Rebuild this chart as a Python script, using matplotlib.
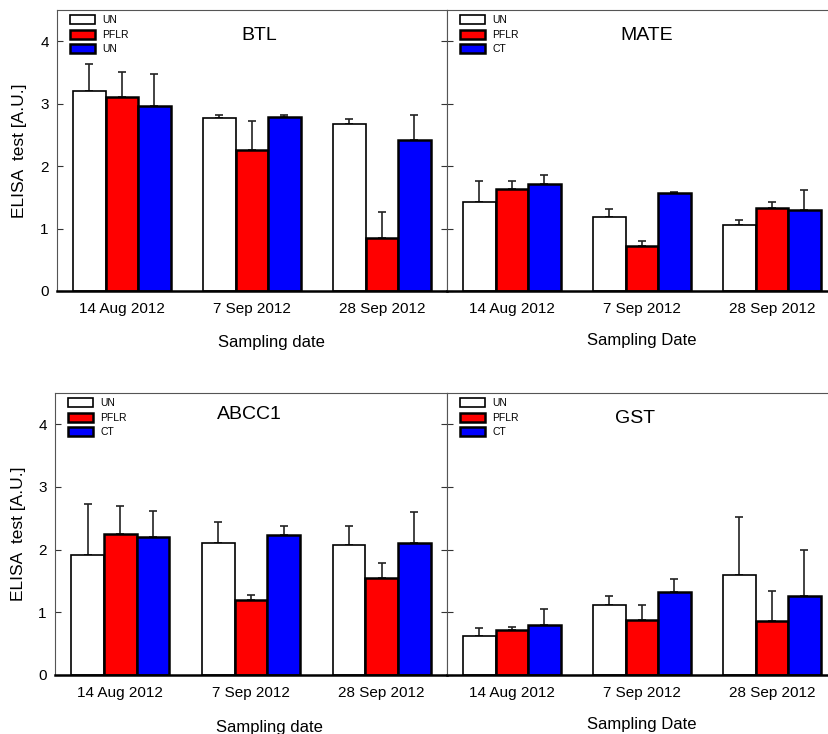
import matplotlib
matplotlib.use("Agg")
import matplotlib.pyplot as plt
import numpy as np
from matplotlib.patches import Patch

plt.rcParams['font.family'] = ['Liberation Sans', 'DejaVu Sans']

dates = ["14 Aug 2012", "7 Sep 2012", "28 Sep 2012"]
colors = ["white", "#ff0000", "#0000ff"]
edge_widths = [1.2, 1.8, 1.8]

# BTL
btl_labels = ["UN", "PFLR", "UN"]
btl_un = [3.20, 2.77, 2.67]
btl_un_top = [3.63, 2.82, 2.76]
btl_pflr = [3.11, 2.26, 0.85]
btl_pflr_top = [3.50, 2.72, 1.27]
btl_ct = [2.96, 2.79, 2.42]
btl_ct_top = [3.48, 2.82, 2.82]

# MATE
mate_labels = ["UN", "PFLR", "CT"]
mate_un = [1.42, 1.18, 1.05]
mate_un_top = [1.76, 1.32, 1.14]
mate_pflr = [1.64, 0.72, 1.33]
mate_pflr_top = [1.76, 0.80, 1.43]
mate_ct = [1.72, 1.57, 1.29]
mate_ct_top = [1.85, 1.59, 1.62]

# ABCC1
abcc_labels = ["UN", "PFLR", "CT"]
abcc_un = [1.92, 2.10, 2.07]
abcc_un_top = [2.73, 2.44, 2.37]
abcc_pflr = [2.25, 1.20, 1.55]
abcc_pflr_top = [2.69, 1.27, 1.78]
abcc_ct = [2.20, 2.24, 2.11]
abcc_ct_top = [2.61, 2.38, 2.60]

# GST
gst_labels = ["UN", "PFLR", "CT"]
gst_un = [0.62, 1.12, 1.60]
gst_un_top = [0.75, 1.26, 2.52]
gst_pflr = [0.72, 0.88, 0.86]
gst_pflr_top = [0.76, 1.12, 1.34]
gst_ct = [0.79, 1.33, 1.26]
gst_ct_top = [1.06, 1.53, 1.99]

panels = [
    dict(title="BTL", labels=btl_labels, vals=[btl_un, btl_pflr, btl_ct],
         tops=[btl_un_top, btl_pflr_top, btl_ct_top], xlabel="Sampling date",
         rect=[57/829, 1-291/734, 390/829, 281/734], left=True,
         tpos=(0.518, 0.911), xl=(0.549, -0.157), yl=-0.077),
    dict(title="MATE", labels=mate_labels, vals=[mate_un, mate_pflr, mate_ct],
         tops=[mate_un_top, mate_pflr_top, mate_ct_top], xlabel="Sampling Date",
         rect=[447/829, 1-291/734, 390/829, 281/734], left=False,
         tpos=(0.512, 0.911), xl=(0.5, -0.149), yl=None),
    dict(title="ABCC1", labels=abcc_labels, vals=[abcc_un, abcc_pflr, abcc_ct],
         tops=[abcc_un_top, abcc_pflr_top, abcc_ct_top], xlabel="Sampling date",
         rect=[55/829, 1-675/734, 392/829, 282/734], left=True,
         tpos=(0.497, 0.922), xl=(0.548, -0.16), yl=-0.074),
    dict(title="GST", labels=gst_labels, vals=[gst_un, gst_pflr, gst_ct],
         tops=[gst_un_top, gst_pflr_top, gst_ct_top], xlabel="Sampling Date",
         rect=[447/829, 1-675/734, 390/829, 282/734], left=False,
         tpos=(0.481, 0.911), xl=(0.5, -0.149), yl=None),
]

fig = plt.figure(figsize=(8.29, 7.34), dpi=100)
x = np.arange(len(dates))
w = 0.25

for p in panels:
    ax = fig.add_axes(p["rect"])
    for i in range(3):
        v = np.array(p["vals"][i])
        t = np.array(p["tops"][i])
        pos = x + (i - 1) * w
        ax.errorbar(pos, v, yerr=[np.zeros_like(v), t - v], fmt='none',
                    ecolor='#222222', elinewidth=1.2, capsize=3.2, capthick=1.2, zorder=1)
        ax.bar(pos, v, width=w, color=colors[i], edgecolor='black',
               linewidth=edge_widths[i], zorder=2)
    ax.set_xlim(-0.5, 2.5)
    ax.set_ylim(0, 4.5)
    ax.set_xticks(x)
    ax.set_xticklabels(dates, fontsize=11)
    ax.set_yticks([0, 1, 2, 3, 4])
    ax.tick_params(axis='x', length=0, pad=8)
    ax.tick_params(axis='y', direction='in', length=4, width=0.8, right=True,
                   labelsize=11, pad=6, labelleft=p["left"], colors='#333333', labelcolor='black')
    for s in ["top", "left", "right"]:
        ax.spines[s].set_linewidth(0.8)
        ax.spines[s].set_color('#555555')
    ax.spines["bottom"].set_linewidth(1.8)
    ax.spines["bottom"].set_color('black')
    ax.text(p["tpos"][0], p["tpos"][1], p["title"], transform=ax.transAxes,
            ha='center', va='center', fontsize=14)
    ax.set_xlabel(p["xlabel"], fontsize=12)
    ax.xaxis.set_label_coords(*p["xl"])
    if p["yl"] is not None:
        ax.set_ylabel("ELISA  test [A.U.]", fontsize=12.5)
        ax.yaxis.set_label_coords(p["yl"], 0.5)
    handles = [Patch(facecolor=colors[i], edgecolor='black', linewidth=edge_widths[i],
                     label=p["labels"][i]) for i in range(3)]
    ax.legend(handles=handles, loc='upper left', bbox_to_anchor=(13/390, 0.983),
              frameon=False, fontsize=7.5, handlelength=2.4, handleheight=0.95,
              handletextpad=0.7, labelspacing=0.45, borderpad=0, borderaxespad=0)

fig.savefig("out.png", dpi=100)
